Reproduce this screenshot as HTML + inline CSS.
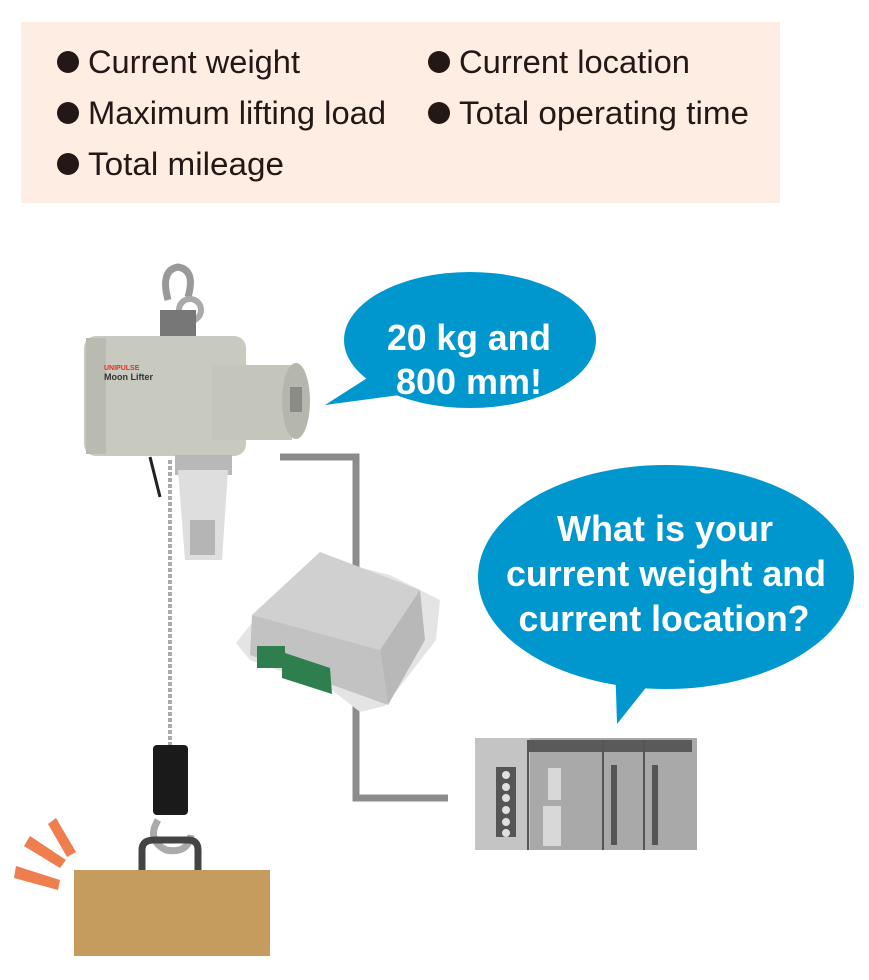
<!DOCTYPE html>
<html><head><meta charset="utf-8"><style>
html,body{margin:0;padding:0;background:#fff;width:869px;height:980px;overflow:hidden}
</style></head><body>
<svg width="869" height="980" viewBox="0 0 869 980" xmlns="http://www.w3.org/2000/svg" font-family="Liberation Sans, sans-serif">
<rect x="21" y="22" width="759" height="181" fill="#fdede2"/>
<g fill="#231815">
<circle cx="68" cy="62" r="11"/><circle cx="68" cy="113" r="11"/><circle cx="68" cy="164" r="11"/>
<circle cx="439" cy="62" r="11"/><circle cx="439" cy="113" r="11"/>
</g>
<g font-size="32" fill="#231815">
<text x="88" y="73" textLength="212" lengthAdjust="spacingAndGlyphs">Current weight</text>
<text x="88" y="124" textLength="298" lengthAdjust="spacingAndGlyphs">Maximum lifting load</text>
<text x="88" y="175" textLength="196" lengthAdjust="spacingAndGlyphs">Total mileage</text>
<text x="459" y="73" textLength="231" lengthAdjust="spacingAndGlyphs">Current location</text>
<text x="459" y="124" textLength="290" lengthAdjust="spacingAndGlyphs">Total operating time</text>
</g>
<path d="M280 457 H356 V798 H448" fill="none" stroke="#8c8c8c" stroke-width="7"/>
<g fill="#0097cf">
<ellipse cx="470" cy="340" rx="126" ry="68"/>
<path d="M372 375 L325 405 L400 395 Z"/>
<ellipse cx="666" cy="577" rx="188" ry="112"/>
<path d="M615 660 L617 724 L660 670 Z"/>
</g>
<g fill="#fff" font-weight="bold" font-size="36" text-anchor="middle">
<text x="469" y="350" textLength="164" lengthAdjust="spacingAndGlyphs">20 kg and</text>
<text x="469" y="394" textLength="146" lengthAdjust="spacingAndGlyphs">800 mm!</text>
<text x="665" y="541" textLength="216" lengthAdjust="spacingAndGlyphs">What is your</text>
<text x="666" y="586" textLength="320" lengthAdjust="spacingAndGlyphs">current weight and</text>
<text x="664" y="631" textLength="291" lengthAdjust="spacingAndGlyphs">current location?</text>
</g>
<!-- hoist -->
<path d="M168 300 q-8 -30 10 -33 q18 3 10 30" fill="none" stroke="#999" stroke-width="7"/>
<circle cx="190" cy="310" r="11" fill="none" stroke="#aaa" stroke-width="6"/>
<rect x="160" y="310" width="36" height="28" fill="#777"/>
<rect x="84" y="336" width="162" height="120" rx="12" fill="#c9cabf"/>
<rect x="86" y="338" width="20" height="116" fill="#b9bab0"/>
<rect x="212" y="365" width="80" height="75" fill="#c4c5bb"/>
<ellipse cx="296" cy="401" rx="14" ry="38" fill="#b5b6ad"/>
<rect x="290" y="387" width="12" height="25" fill="#8a8a86"/>
<text x="104" y="370" font-size="7" fill="#e0301e" font-weight="bold">UNIPULSE</text>
<text x="104" y="380" font-size="9" fill="#333" font-weight="bold">Moon Lifter</text>
<rect x="175" y="455" width="57" height="20" fill="#b8b8b8"/>
<path d="M178 470 H228 L222 560 H185 Z" fill="#dedede"/>
<rect x="190" y="520" width="25" height="35" fill="#999" opacity="0.6"/>
<path d="M150 457 q5 20 10 40" stroke="#222" stroke-width="3" fill="none"/>
<line x1="170" y1="460" x2="170" y2="745" stroke="#aaa" stroke-width="4" stroke-dasharray="4 2"/>
<rect x="153" y="745" width="35" height="70" rx="4" fill="#1a1a1a"/>
<path d="M158 820 q-12 20 8 30 q22 4 25 -15" fill="none" stroke="#aaa" stroke-width="7"/>
<path d="M142 870 V850 q0 -10 12 -10 h34 q10 0 10 10 V870" fill="none" stroke="#444" stroke-width="7"/>
<rect x="74" y="870" width="196" height="86" fill="#c69c5e"/>
<g fill="#ef7e4f">
<polygon points="16,866 60,880 58,890 14,878"/>
<polygon points="30,836 66,860 60,868 24,846"/>
<polygon points="56,818 76,852 67,857 48,824"/>
</g>
<!-- converter -->
<polygon points="236,643 270,600 330,560 390,575 440,600 436,640 385,706 360,712 332,690 250,660" fill="#e4e4e4"/>
<polygon points="252,615 320,552 420,590 380,650" fill="#d0d0d0"/>
<polygon points="380,650 420,590 425,640 388,705" fill="#b8b8b8"/>
<polygon points="252,615 380,650 388,705 250,655" fill="#c2c2c2"/>
<rect x="257" y="646" width="28" height="22" fill="#2f7f4e"/>
<polygon points="282,652 330,668 332,694 282,678" fill="#2f7f4e"/>
<!-- PLC -->
<rect x="475" y="738" width="222" height="112" fill="#a9a9a9"/>
<rect x="475" y="738" width="55" height="112" fill="#c4c4c4"/>
<rect x="527" y="740" width="165" height="12" fill="#5a5a5a"/>
<line x1="528" y1="740" x2="528" y2="850" stroke="#555" stroke-width="2"/>
<line x1="603" y1="740" x2="603" y2="850" stroke="#555" stroke-width="2"/>
<line x1="644" y1="740" x2="644" y2="850" stroke="#555" stroke-width="2"/>
<rect x="496" y="767" width="20" height="70" fill="#555"/>
<g fill="#e0e0e0"><circle cx="506" cy="775" r="4"/><circle cx="506" cy="787" r="4"/><circle cx="506" cy="798" r="4"/><circle cx="506" cy="810" r="4"/><circle cx="506" cy="822" r="4"/><circle cx="506" cy="833" r="4"/></g>
<rect x="548" y="768" width="13" height="32" fill="#d8d8d8"/>
<rect x="543" y="806" width="18" height="40" fill="#d8d8d8"/>
<rect x="611" y="765" width="6" height="80" fill="#555"/>
<rect x="652" y="765" width="6" height="80" fill="#555"/>
</svg>
</body></html>
